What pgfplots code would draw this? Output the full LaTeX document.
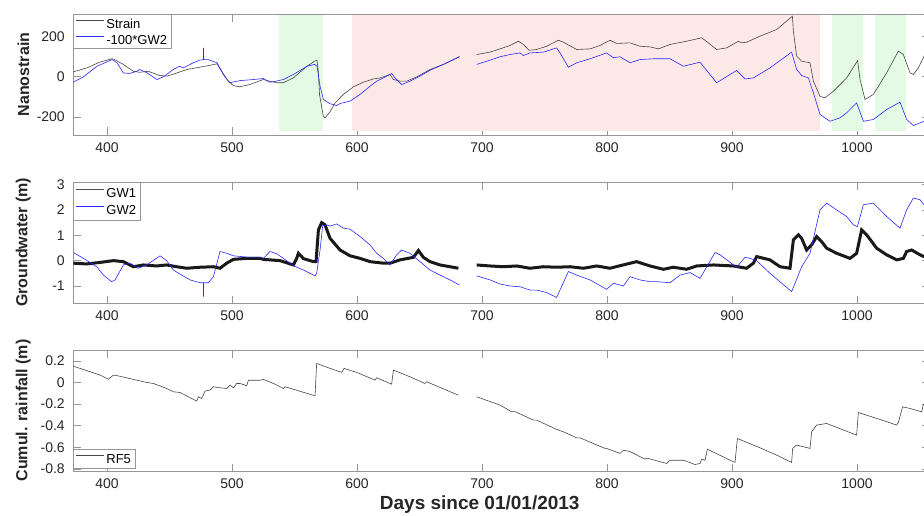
\documentclass[border=0pt]{standalone}
\usepackage{fontspec}
\setmainfont{Liberation Sans}
\usepackage{pgfplots}
\pgfplotsset{compat=1.18}
\definecolor{framegray}{RGB}{150,150,150}
\definecolor{txt}{RGB}{38,38,38}
\definecolor{straincol}{RGB}{70,70,70}
\definecolor{gw1col}{RGB}{60,60,60}
\definecolor{gwblue}{RGB}{40,40,255}
\definecolor{shgreen}{RGB}{228,250,228}
\definecolor{shpink}{RGB}{253,232,232}
\pgfplotsset{
 base/.style={
  scale only axis, width=855.7bp, height=121bp,
  xmin=373, xmax=1057.6,
  axis line style={framegray, line width=0.6bp},
  tick style={framegray, line width=0.6bp},
  tick align=inside, major tick length=7.5bp,
  xtick={400,500,600,700,800,900,1000},
  xticklabels={400,500,600,700,800,900,1000},
  ticklabel style={font=\fontsize{14bp}{16bp}\selectfont, text=txt},
  xticklabel style={yshift=-4bp},
  yticklabel style={xshift=-5bp},
  unbounded coords=jump,
  legend cell align=left,
  legend style={at={(rel axis cs:0,1)}, anchor=north west, draw=framegray, line width=0.6bp,
    font=\fontsize{13bp}{15bp}\selectfont, inner xsep=2bp, inner ysep=1.25bp,
    row sep=0bp, nodes={inner sep=2bp}},
  every axis y label/.style={at={(rel axis cs:-0.0584,0.5)}, rotate=90, anchor=center,
    font=\bfseries\fontsize{16bp}{18bp}\selectfont, text=txt},
 },
 limg/.style={legend image code/.code={\draw[draw=#1, line width=0.8bp] (0bp,3.5bp) -- (28bp,3.5bp);}},
}
\begin{document}
\begin{tikzpicture}
\path[use as bounding box] (0,0) rectangle (924bp,-516bp);
% ---------------- top panel
\begin{axis}[base, at={(73.3bp,-14bp)}, anchor=north west,
  ymin=-290, ymax=310, ytick={-200,0,200}, yticklabels={-200,0,200},
  ylabel={Nanostrain}]
\addplot[fill=shgreen, draw=none, forget plot] coordinates {(537.6,-268) (572.6,-268) (572.6,303) (537.6,303)} -- cycle;
\addplot[fill=shpink, draw=none, forget plot] coordinates {(596.3,-268) (970.4,-268) (970.4,303) (596.3,303)} -- cycle;
\addplot[fill=shgreen, draw=none, forget plot] coordinates {(980,-268) (1005,-268) (1005,303) (980,303)} -- cycle;
\addplot[fill=shgreen, draw=none, forget plot] coordinates {(1014.4,-268) (1039.2,-268) (1039.2,303) (1014.4,303)} -- cycle;
\addplot[straincol, line width=0.6bp, forget plot] coordinates {
(373,23) (384,43) (394,71) (404,88) (406,84) (413,60) (421,26) (426,21) (433,26) (442,5) (448,2)
(456,18) (464,35) (474,46) (482,55) (488,63) (490,43) (496,-15) (501,-45) (506,-51) (514,-40)
(525,-15) (530,-23) (536,-31) (541,-31) (549,-7) (560,51) (566,76) (568,81) (569,26) (570,-89)
(573,-197) (574.4,-205) (578.4,-175) (582.4,-131) (589.1,-89) (597.1,-51) (605.1,-28) (613.1,-12)
(618.4,-7) (626.4,10) (629.1,-15) (634.4,-23) (639.7,-23) (647.7,-2) (658.4,35) (669.1,60) (681.9,98)
(690,nan)
(695.7,109) (706.4,121) (714.4,137) (722.4,154) (729.1,175) (733.1,159) (737.6,130) (743.7,134)
(751.7,150) (761.1,180) (765.1,170) (775.7,134) (786.4,137) (794.4,154) (802.4,180) (807.7,164)
(818.4,167) (826.4,150) (834.4,147) (841.1,137) (850.4,159) (863.7,175) (875.7,192) (881.1,167)
(887.7,134) (895.7,142) (905.1,175) (907.7,167) (911.7,170) (922.4,200) (935.7,233) (948.3,299)
(949.1,225) (951.7,101) (955.7,76) (962.4,68) (965.1,-23) (970.4,-98) (974.4,-106) (981.1,-73)
(991.7,-7) (1000.5,79) (1002.4,-15) (1006.4,-114) (1013.1,-89) (1023.7,18) (1033.1,126) (1037.1,109)
(1042.4,18) (1045.1,10) (1049.1,43) (1053.6,101) (1058,140)};
\addplot[gwblue, line width=0.6bp, forget plot] coordinates {
(373,-28) (381,-2) (392,51) (404,84) (408,68) (413,18) (418,15) (424,26) (426,35) (432,18) (440,-15)
(445,-2) (453,35) (458,51) (461,43) (469,68) (474,81) (477,84) (477.2,142) (477.4,84) (481,84)
(488,68) (493,10) (498,-31) (504,-23) (507,-20) (517,-15) (525,-10) (530,-28) (533,-26) (541,-15)
(549,10) (560,51) (566,60) (568,51) (570.4,-48) (573.1,-114) (578.4,-135) (581.1,-139) (583.7,-144)
(586.4,-134) (594.4,-122) (602.4,-89) (610.4,-48) (615.7,-23) (621.1,-7) (627.7,15) (630.4,-7)
(635.7,-40) (642.4,-23) (650.4,2) (658.4,31) (669.1,60) (681.9,98)
(690,nan)
(695.7,60) (706.4,81) (714.4,98) (722.4,109) (730.4,117) (733.1,104) (738.4,117) (749.1,121)
(759.7,142) (762.4,117) (769.1,46) (775.7,68) (786.4,88) (799.7,117) (805.1,93) (810.4,98)
(818.4,68) (826.4,84) (837.1,88) (850.4,88) (861.1,51) (874.4,71) (887.7,-31) (903.7,30)
(910.4,-12) (917.1,-7) (930.4,43) (947.7,121) (951.7,35) (955.7,5) (961.1,-7) (965.1,-81)
(970.4,-188) (978.4,-222) (986.4,-205) (991.7,-180) (999.7,-131) (1005.1,-222) (1013.1,-213)
(1023.7,-164) (1034.4,-127) (1039.7,-213) (1045.1,-243) (1053.6,-222) (1058,-210)};
\addlegendimage{limg=straincol}
\addlegendentry{\strut Strain}
\addlegendimage{limg=gwblue}
\addlegendentry{\strut -100*GW2\hspace{6bp}}
\end{axis}
% ---------------- middle panel
\begin{axis}[base, at={(73.3bp,-182bp)}, anchor=north west,
  ymin=-1.67, ymax=3.1, ytick={-1,0,1,2,3}, yticklabels={-1,0,1,2,3},
  ylabel={Groundwater (m)},
  legend style={row sep=1bp, inner ysep=2.6bp}]
\addplot[black, line width=3bp, opacity=0.9, limg=gw1col] coordinates {
(373,-0.10) (383.7,-0.13) (394.4,-0.07) (405.1,0) (413.1,-0.04) (421.1,-0.24) (429.1,-0.17)
(439.7,-0.21) (447.7,-0.17) (455.7,-0.24) (463.7,-0.30) (474.4,-0.26) (485.1,-0.24) (490.4,-0.30)
(495.7,-0.10) (501.1,0.05) (511.7,0.09) (522.4,0.09) (525.1,0.05) (538.4,0) (549.1,-0.17)
(551.7,0.09) (553.1,0.29) (557.1,0.08) (565.1,-0.04) (567.2,-0.04) (569.1,1.21) (571.7,1.50)
(574.4,1.41) (578.4,0.88) (586.4,0.42) (594.4,0.19) (602.4,0.09) (610.4,-0.04) (621.1,-0.10)
(626.4,-0.10) (634.4,0.03) (645.1,0.13) (649.1,0.40) (653.1,0.13) (658.4,-0.04) (666.4,-0.17)
(674.4,-0.24) (681.1,-0.30)
(690,nan)
(695.7,-0.17) (706.4,-0.21) (717.1,-0.24) (727.7,-0.21) (738.4,-0.30) (749.1,-0.24) (759.7,-0.26)
(770.4,-0.24) (781.1,-0.30) (791.7,-0.21) (802.4,-0.30) (810.4,-0.20) (823.7,-0.04) (834.4,-0.21)
(845.1,-0.34) (853.1,-0.26) (863.7,-0.34) (871.7,-0.21) (885.1,-0.17) (901.1,-0.21) (911.7,-0.30)
(917.1,-0.10) (919.7,0.16) (930.4,0.03) (938.4,-0.24) (946.4,-0.30) (949.1,0.82) (953.1,1.02)
(955.7,0.88) (959.7,0.42) (963.7,0.62) (967.7,0.95) (971.7,0.75) (975.7,0.49) (983.7,0.29)
(994.4,0.09) (999.7,0.29) (1003.7,1.21) (1007.7,1.02) (1015.7,0.49) (1023.7,0.23) (1031.7,0.03)
(1037.1,0.09) (1039.7,0.36) (1043.7,0.42) (1050.4,0.23) (1053.6,0.16) (1058,0.2)};
\addlegendentry{\strut GW1}
\addplot[gwblue, line width=0.6bp, limg=gwblue] coordinates {
(373,0.32) (381.1,0.09) (391.7,-0.24) (397.1,-0.57) (403.7,-0.83) (406.4,-0.76) (413.1,-0.17)
(418.4,-0.10) (425.1,-0.30) (431.7,-0.17) (442.4,0.19) (447.7,0) (453.1,-0.37) (458.4,-0.53)
(466.4,-0.76) (474.4,-0.87) (477.1,-0.87) (477.2,-1.42) (477.3,-0.87) (481.1,-0.87) (485.1,-0.63)
(490.4,0.36) (495.7,0.29) (501.1,0.19) (511.7,0.14) (522.4,0.14) (525.1,0.09) (530.4,0.36)
(535.7,0.27) (541.1,0.09) (549.1,-0.20) (557.1,-0.37) (566.4,-0.60) (567.7,-0.50) (570.4,0.42)
(572.5,1.37) (575.7,1.41) (578.4,1.36) (583.7,1.45) (589.1,1.28) (594.4,1.24) (602.4,0.95)
(610.4,0.62) (615.7,0.29) (621.1,0.09) (626.4,-0.17) (631.7,0.23) (635.7,0.42) (642.4,0.29)
(650.4,-0.04) (658.4,-0.37) (666.4,-0.57) (674.4,-0.76) (681.9,-0.96)
(690,nan)
(695.7,-0.60) (706.4,-0.76) (714.4,-0.92) (722.4,-1.00) (730.4,-1.03) (738.4,-1.16) (743.7,-1.16)
(751.7,-1.26) (759.7,-1.45) (762.4,-1.16) (769.1,-0.43) (775.7,-0.57) (786.4,-0.76) (799.7,-1.13)
(805.1,-0.89) (813.1,-1.00) (818.4,-0.63) (826.4,-0.76) (834.4,-0.83) (839.7,-0.83) (850.4,-0.87)
(858.4,-0.57) (866.4,-0.47) (874.4,-0.70) (886.4,0.32) (890.4,0.23) (903.7,-0.26) (910.4,0.13)
(914.4,0.09) (919.7,0) (930.4,-0.50) (947.7,-1.22) (955.7,-0.24) (962.4,0.29) (970.4,2.00)
(975.7,2.27) (983.7,2.00) (991.7,1.74) (997.1,1.41) (1000.3,1.34) (1005.1,2.20) (1013.1,2.27)
(1023.7,1.74) (1034.4,1.28) (1039.7,2.00) (1045.1,2.47) (1050.4,2.40) (1053.6,2.20) (1058,2.1)};
\addlegendentry{\strut GW2}
\end{axis}
% ---------------- bottom panel
\begin{axis}[base, at={(73.3bp,-350bp)}, anchor=north west,
  ymin=-0.82, ymax=0.3, ytick={-0.8,-0.6,-0.4,-0.2,0,0.2},
  yticklabels={-0.8,-0.6,-0.4,-0.2,0,0.2},
  xticklabel style={yshift=0bp},
  ylabel={Cumul. rainfall (m)},
  xlabel={Days since 01/01/2013},
  xlabel style={at={(rel axis cs:0.475,-0.281)}, anchor=center,
    font=\bfseries\fontsize{19bp}{21bp}\selectfont, text=txt},
  legend style={at={(rel axis cs:0,0.022)}, anchor=south west, inner ysep=1.5bp}]
\addplot[straincol, line width=0.6bp, limg=straincol] coordinates {
(373.1,0.15) (394.4,0.068) (401.1,0.03) (405.1,0.068) (409.1,0.06) (421.1,0.028) (431.7,0)
(437.1,-0.01) (447.7,-0.056) (453.1,-0.087) (458.4,-0.093) (471.7,-0.173) (473.1,-0.133)
(475.7,-0.15) (478.4,-0.08) (482.4,-0.071) (485.1,-0.04) (490.4,-0.05) (495.7,-0.056) (498.4,-0.025)
(501.1,-0.05) (503.7,-0.01) (506.4,-0.01) (511.7,-0.03) (513.1,0.02) (522.4,0.02) (525.1,0.028)
(533.1,-0.01) (541.1,-0.056) (542.4,-0.04) (566.4,-0.124) (567.7,0.176) (578.4,0.13) (587.7,0.093)
(589.6,0.13) (599.7,0.093) (614.4,0.021) (615.7,0.043) (627.7,-0.016) (629.1,0.114) (642.4,0.052)
(654.4,-0.01) (655.7,0.006) (681.1,-0.118)
(690,nan)
(695.7,-0.133) (714.4,-0.21) (723.7,-0.272) (726.4,-0.27) (741.1,-0.349) (743.7,-0.349)
(759.7,-0.435) (765.1,-0.457) (775.7,-0.513) (778.4,-0.513) (798.4,-0.611) (799.7,-0.611)
(810.4,-0.657) (813.1,-0.627) (818.4,-0.64) (830.4,-0.71) (831.7,-0.70) (847.7,-0.75) (850.4,-0.72)
(861.1,-0.72) (870.4,-0.76) (874.4,-0.75) (875.7,-0.71) (878.4,-0.72) (880.3,-0.618) (898.4,-0.72)
(902.4,-0.74) (904.3,-0.519) (922.4,-0.605) (935.7,-0.673) (947.7,-0.74) (948.5,-0.611)
(951.7,-0.58) (962.4,-0.611) (963.7,-0.457) (967.7,-0.395) (975.7,-0.38) (999.7,-0.488)
(1001.1,-0.278) (1007.7,-0.303) (1022.4,-0.358) (1031.7,-0.395) (1033.1,-0.37) (1036.5,-0.226)
(1042.4,-0.241) (1051.7,-0.272) (1053.1,-0.204) (1058,-0.21)};
\addlegendentry{\strut RF5}
\end{axis}
\end{tikzpicture}
\end{document}
